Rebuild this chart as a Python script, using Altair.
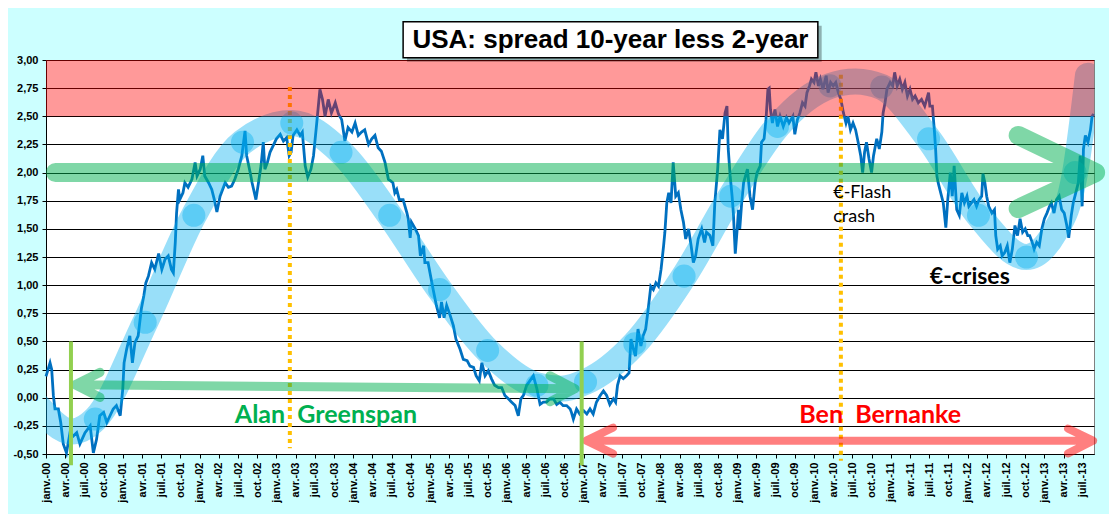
import json
import pandas as pd
import altair as alt

# months since janv.-2000 and the 10y-2y spread
months = [0, 0.63, 0.89, 1.15, 1.4, 1.93, 2.3, 2.7, 3.2, 3.75, 4.27, 4.8, 5.3, 6.1, 6.9, 7.4, 7.9, 8.4, 9.0, 9.5,
          10.0, 10.5, 11.0, 11.6, 12.0, 12.2, 12.6, 13.1, 13.5, 13.9, 14.4, 14.9, 15.3, 15.6, 16.0, 16.5, 17.0, 17.6, 18.1, 18.6,
          19.1, 19.6, 19.9, 20.2, 20.4, 20.7, 20.9, 21.4, 21.7, 22.2, 22.8, 23.3, 23.6, 24.1, 24.5, 24.8, 25.4, 25.9, 26.3, 26.7,
          27.2, 28.0, 28.5, 29.0, 29.5, 30.05, 30.6, 31.1, 31.35, 31.9, 32.2, 32.8, 33.2, 33.6, 33.95, 34.2, 34.6, 35.0, 35.5, 36.0,
          36.6, 37.1, 37.6, 38.0, 38.3, 38.6, 39.2, 39.7, 40.05, 40.5, 40.9, 41.4, 41.8, 42.3, 42.8, 43.2, 43.6, 44.1, 44.6, 45.2,
          45.7, 46.2, 46.7, 47.2, 47.8, 48.3, 48.8, 49.3, 49.8, 50.4, 50.9, 51.4, 51.9, 52.4, 52.97, 53.5, 53.75, 54.2, 54.5, 54.8,
          55.2, 55.8, 56.4, 56.6, 56.9, 57.1, 57.7, 58.2, 58.5, 59.0, 59.2, 59.7, 60.1, 60.5, 61.0, 61.5, 61.8, 62.2, 62.6, 63.1,
          63.65, 64.06, 64.7, 65.2, 65.8, 66.25, 66.8, 67.2, 67.7, 68.1, 68.6, 69.1, 69.6, 70.1, 70.7, 71.2, 71.7, 72.24, 72.76, 73.3,
          73.8, 74.2, 74.6, 75.1, 75.6, 76.15, 76.7, 77.2, 77.7, 78.2, 78.75, 79.3, 79.8, 80.3, 80.8, 81.35, 81.9, 82.1, 82.4, 82.9,
          83.4, 84.0, 84.5, 85.0, 85.5, 86.0, 86.6, 87.1, 87.6, 88.1, 88.65, 89.0, 89.3, 89.7, 90.2, 90.7, 91.1, 91.4, 91.8, 92.1,
          92.5, 92.95, 93.3, 93.7, 94.1, 94.5, 94.9, 95.3, 95.7, 96.1, 96.5, 96.7, 97.0, 97.3, 97.66, 98.0, 98.4, 98.8, 99.2, 99.6,
          99.95, 100.4, 100.8, 101.15, 101.5, 101.9, 102.45, 102.9, 103.2, 103.75, 104.2, 104.5, 104.95, 105.3, 105.7, 106.1, 106.4, 106.6, 106.9, 107.2,
          107.4, 107.7, 108.0, 108.2, 108.4, 108.7, 109.0, 109.2, 109.6, 110.0, 110.4, 110.8, 111.1, 111.6, 111.8, 112.2, 112.5, 112.8, 113.0, 113.2,
          113.5, 113.9, 114.3, 114.7, 115.2, 115.7, 116.1, 116.7, 117.0, 117.4, 117.8, 118.2, 118.6, 118.9, 119.3, 119.6, 120.0, 120.3, 120.7, 121.0,
          121.4, 121.9, 122.2, 122.6, 123.0, 123.4, 123.8, 124.2, 124.6, 125.0, 125.3, 125.7, 126.1, 126.5, 126.9, 127.3, 127.6, 127.9, 128.2, 128.6,
          128.99, 129.3, 129.8, 130.2, 130.6, 130.8, 131.1, 131.4, 131.9, 132.3, 132.6, 133.0, 133.4, 133.8, 134.2, 134.6, 135.0, 135.4, 135.8, 136.3,
          136.8, 137.3, 137.9, 138.1, 138.5, 138.8, 139.0, 139.2, 139.4, 139.8, 140.2, 140.6, 140.9, 141.3, 141.6, 141.9, 142.3, 142.7, 143.1, 143.5,
          143.9, 144.2, 144.6, 145.0, 145.4, 145.8, 146.2, 146.4, 146.7, 146.98, 147.3, 147.8, 148.2, 148.4, 148.7, 149.1, 149.4, 149.8, 150.2, 150.6,
          150.99, 151.4, 151.8, 152.2, 152.6, 153.0, 153.4, 153.7, 154.1, 154.4, 154.8, 155.2, 155.6, 156.0, 156.4, 156.8, 157.1, 157.5, 157.9, 158.3,
          158.7, 159.1, 159.5, 159.8, 160.2, 160.5, 160.9, 161.3, 161.6, 161.9, 162.1, 162.4, 162.8, 163.2, 163.45, 163.7]
spread = [0.19, 0.31, 0.25, 0.02, -0.10, -0.10, -0.22, -0.41, -0.49, -0.31, -0.34, -0.31, -0.41, -0.31, -0.25, -0.49, -0.37, -0.16, -0.13, -0.22,
          -0.16, -0.10, -0.07, -0.16, 0.08, 0.31, 0.43, 0.55, 0.31, 0.49, 0.55, 0.79, 0.91, 1.02, 1.08, 1.20, 1.14, 1.28, 1.14, 1.23,
          1.26, 1.14, 1.11, 1.38, 1.64, 1.85, 1.76, 1.82, 1.91, 1.87, 1.94, 2.09, 1.97, 2.03, 2.15, 1.97, 1.91, 1.85, 1.76, 1.65,
          1.79, 1.91, 1.87, 1.88, 1.94, 2.03, 2.15, 2.37, 2.15, 2.00, 1.91, 1.76, 1.91, 2.06, 2.27, 2.03, 2.09, 2.18, 2.24, 2.30,
          2.34, 2.28, 2.31, 2.15, 2.18, 2.33, 2.38, 2.33, 2.36, 2.06, 1.96, 2.03, 2.15, 2.44, 2.74, 2.65, 2.50, 2.65, 2.53, 2.62,
          2.52, 2.47, 2.28, 2.40, 2.36, 2.44, 2.33, 2.36, 2.38, 2.25, 2.30, 2.33, 2.22, 2.19, 2.09, 1.94, 1.93, 1.91, 1.82, 1.85,
          1.76, 1.76, 1.64, 1.59, 1.42, 1.56, 1.50, 1.44, 1.26, 1.35, 1.20, 1.20, 1.08, 0.96, 0.82, 0.71, 0.85, 0.71, 0.82, 0.74,
          0.64, 0.52, 0.43, 0.34, 0.33, 0.28, 0.27, 0.195, 0.15, 0.31, 0.195, 0.24, 0.17, 0.11, 0.09, 0.09, 0.02, -0.01, -0.04, -0.07,
          -0.16, -0.01, 0.02, 0.11, 0.15, 0.195, 0.08, -0.06, -0.04, -0.04, -0.01, -0.01, -0.06, -0.04, -0.07, -0.07, -0.10, -0.13, -0.19, -0.10,
          -0.145, -0.115, -0.145, -0.10, -0.145, -0.04, 0.02, 0.06, 0.02, -0.06, -0.01, -0.04, 0.11, 0.195, 0.17, 0.195, 0.22, 0.52, 0.43, 0.37,
          0.61, 0.46, 0.55, 0.61, 0.79, 0.99, 0.96, 1.02, 0.99, 1.14, 1.35, 1.47, 1.73, 1.82, 1.73, 2.09, 1.79, 1.82, 1.67, 1.56,
          1.41, 1.50, 1.35, 1.20, 1.26, 1.41, 1.50, 1.38, 1.47, 1.44, 1.35, 1.73, 2.03, 2.38, 2.30, 2.53, 2.59, 2.21, 1.97, 1.79,
          1.64, 1.28, 1.50, 1.67, 1.50, 1.73, 1.91, 1.95, 2.03, 1.79, 1.67, 1.91, 2.00, 2.06, 2.27, 2.30, 2.47, 2.74, 2.75, 2.56,
          2.44, 2.56, 2.41, 2.50, 2.41, 2.49, 2.44, 2.50, 2.34, 2.47, 2.53, 2.62, 2.59, 2.71, 2.77, 2.83, 2.80, 2.89, 2.77, 2.83,
          2.74, 2.86, 2.71, 2.80, 2.77, 2.80, 2.71, 2.65, 2.53, 2.44, 2.50, 2.38, 2.44, 2.38, 2.27, 2.15, 2.00, 2.18, 2.27, 2.12,
          2.00, 2.15, 2.30, 2.21, 2.36, 2.53, 2.62, 2.74, 2.80, 2.77, 2.89, 2.77, 2.83, 2.74, 2.80, 2.68, 2.74, 2.65, 2.68, 2.62,
          2.65, 2.59, 2.71, 2.59, 2.59, 2.38, 2.21, 1.97, 1.91, 1.82, 1.73, 1.51, 1.76, 2.00, 1.79, 2.06, 1.67, 1.62, 1.82, 1.73,
          1.79, 1.70, 1.73, 1.76, 1.70, 1.76, 1.79, 1.99, 1.91, 1.79, 1.70, 1.64, 1.67, 1.44, 1.32, 1.35, 1.26, 1.29, 1.35, 1.20,
          1.32, 1.53, 1.44, 1.59, 1.47, 1.50, 1.44, 1.44, 1.38, 1.32, 1.38, 1.35, 1.50, 1.59, 1.64, 1.70, 1.73, 1.64, 1.76, 1.79,
          1.67, 1.64, 1.53, 1.42, 1.62, 1.73, 1.82, 1.91, 2.15, 1.70, 2.21, 2.33, 2.27, 2.38, 2.50, 2.52]

# hand drawn light blue "wave" and its dots
band_months = [-1.5, 4.0, 7.7, 15.5, 23.1, 30.7, 38.4, 46.1, 53.7, 61.5, 69.0, 76.7, 80.5, 84.3, 92.0, 99.7, 107.0,
               114.3, 122.5, 126.5, 130.6, 137.9, 145.7, 153.2, 157.6, 160.8, 162.8]
band_values = [-0.06, -0.30, -0.19, 0.67, 1.62, 2.27, 2.44, 2.18, 1.62, 0.96, 0.42, 0.11, 0.08, 0.14, 0.48, 1.08, 1.79,
               2.41, 2.77, 2.81, 2.76, 2.30, 1.62, 1.25, 1.47, 2.00, 2.86]
dot_months = [7.7, 15.5, 23.1, 30.7, 38.4, 46.1, 53.7, 61.5, 69.0, 76.7, 84.3, 92.0, 99.7, 107.0,
              114.3, 122.5, 130.6, 137.9, 145.7, 153.2, 160.8]
dot_values = [-0.19, 0.67, 1.62, 2.27, 2.44, 2.18, 1.62, 0.96, 0.42, 0.11, 0.14, 0.48, 1.08, 1.79,
              2.41, 2.77, 2.76, 2.30, 1.62, 1.25, 2.00]

tick_months = list(range(0, 163, 3))
tick_labels = [q + '-' + str(y).zfill(2) for y in range(14) for q in ['janv.', 'avr.', 'juil.', 'oct.']][:len(tick_months)]

x_end = 163.75
xs = alt.Scale(domain=[0, x_end], nice=False, zero=False)
ys = alt.Scale(domain=[-0.5, 3.0], nice=False, zero=False)
x_axis = alt.Axis(values=tick_months, grid=False, title=None, labelAngle=270, labelAlign='right',
                  labelBaseline='middle', labelFont='Liberation Sans', labelFontWeight='bold', labelFontSize=11,
                  labelColor='black', tickColor='black', tickSize=4, labelPadding=4, domainColor='black',
                  labelExpr=json.dumps(tick_labels) + '[round(datum.value / 3)]')
y_axis = alt.Axis(values=[i * 0.25 - 0.5 for i in range(15)], grid=True, gridColor='black', gridOpacity=1,
                  title=None, labelFont='Liberation Sans', labelFontWeight='bold', labelFontSize=11,
                  labelColor='black', tickColor='black', tickSize=4, labelPadding=4, domainColor='black',
                  labelExpr="(datum.value < 0 ? '-' : '') + replace(format(abs(datum.value), '.2f'), '.', ',')")


def X(f='m'):
    return alt.X(f + ':Q', scale=xs, axis=x_axis)


def Y(f='v'):
    return alt.Y(f + ':Q', scale=ys, axis=y_axis)


df = pd.DataFrame({'m': months, 'v': spread})
line = alt.Chart(df).mark_line(color='#0070c0', strokeWidth=2.8).encode(x=X(), y=Y())

orange = alt.Chart(pd.DataFrame({'m': [38.1, 124.2], 'v': [2.76, 2.87], 'v2': [-0.45, -0.56]})).mark_rule(
    color='#ffc000', strokeWidth=4, strokeDash=[4, 4]).encode(x=X(), y=Y(), y2='v2:Q')

band = alt.Chart(pd.DataFrame({'m': band_months, 'v': band_values})).mark_line(
    color='#00b0f0', opacity=0.4, strokeWidth=26, strokeCap='round', interpolate='monotone', clip=True
).encode(x=X(), y=Y())
dots = alt.Chart(pd.DataFrame({'m': dot_months, 'v': dot_values})).mark_circle(
    color='#00b0f0', opacity=0.4, size=531).encode(x=X(), y=Y())

red_zone = alt.Chart(pd.DataFrame({'m': [0], 'm2': [x_end], 'v': [2.5], 'v2': [3.0]})).mark_rect(
    color='#ff0000', opacity=0.4).encode(x=X(), x2='m2:Q', y=Y(), y2='v2:Q')


def arrow(pts, color, width):
    d = pd.DataFrame({'m': [p[0] for p in pts], 'v': [p[1] for p in pts], 'i': list(range(len(pts)))})
    return alt.Chart(d).mark_line(color=color, opacity=0.5, strokeWidth=width, strokeCap='round',
                                  strokeJoin='round').encode(x=X(), y=Y(), order='i:Q')


trend_arrow = arrow([(1.48, 2.0), (164.0, 2.0), (151.9, 2.33), (164.0, 2.0), (151.9, 1.68)], '#00b050', 19)
greenspan_arrow = arrow([(8.44, 0.225), (4.53, 0.115), (8.44, 0.003), (4.53, 0.115), (82.66, 0.08),
                         (78.75, 0.195), (82.66, 0.08), (78.75, -0.035)], '#00b050', 9)
bernanke_arrow = arrow([(88.6, -0.266), (84.4, -0.382), (88.6, -0.497), (84.4, -0.382), (163.6, -0.382),
                        (159.7, -0.275), (163.6, -0.382), (159.7, -0.495)], '#ff0000', 8)

green_marks = alt.Chart(pd.DataFrame({'m': [3.9, 83.7], 'v': [0.5, 0.5], 'v2': [-0.6, -0.6]})).mark_rule(
    color='#92d050', strokeWidth=4).encode(x=X(), y=Y(), y2='v2:Q')

title_shadow = alt.Chart(pd.DataFrame({'m': [56.4], 'm2': [121.2], 'v': [3.305], 'v2': [2.985]})).mark_rect(
    color='black', opacity=0.3).encode(x=X(), x2='m2:Q', y=Y(), y2='v2:Q')
title_box = alt.Chart(pd.DataFrame({'m': [55.8], 'm2': [120.6], 'v': [3.34], 'v2': [3.02]})).mark_rect(
    fill='white', stroke='black', strokeWidth=1.5).encode(x=X(), x2='m2:Q', y=Y(), y2='v2:Q')
title_text = alt.Chart(pd.DataFrame({'m': [88.2], 'v': [3.18], 't': ['USA: spread 10-year less 2-year']})).mark_text(
    font='Liberation Sans', fontWeight='bold', fontSize=26, color='black', align='center', baseline='middle'
).encode(x=X(), y=Y(), text='t:N')


def label(m, v, txt, color, size, weight):
    d = pd.DataFrame({'m': [m], 'v': [v], 't': [txt]})
    return alt.Chart(d).mark_text(font='Lato', fontSize=size, fontWeight=weight, color=color,
                                  align='left', baseline='alphabetic').encode(x=X(), y=Y(), text='t:N')


texts = [
    label(29.5, -0.222, 'Alan\u00a0 Greenspan', '#00b050', 25, 'bold'),
    label(117.7, -0.222, 'Ben\u00a0 Bernanke', '#ff0000', 25, 'bold'),
    label(123.0, 1.773, '€-Flash', 'black', 18, 'normal'),
    label(123.0, 1.557, 'crash', 'black', 18, 'normal'),
    label(138.1, 1.01, '€-crises', 'black', 23, 'bold'),
]

chart = alt.layer(
    line, orange, band, dots, red_zone, trend_arrow, greenspan_arrow, bernanke_arrow, green_marks,
    title_shadow, title_box, title_text, *texts
).properties(
    width=1048, height=394, autosize='none',
    padding={'left': 38, 'top': 52, 'right': 15, 'bottom': 60}
).configure(background='#ccffff').configure_view(fill='white', stroke='#808080')

chart.save("out.html", embed_options={"renderer": "svg", "actions": False})
